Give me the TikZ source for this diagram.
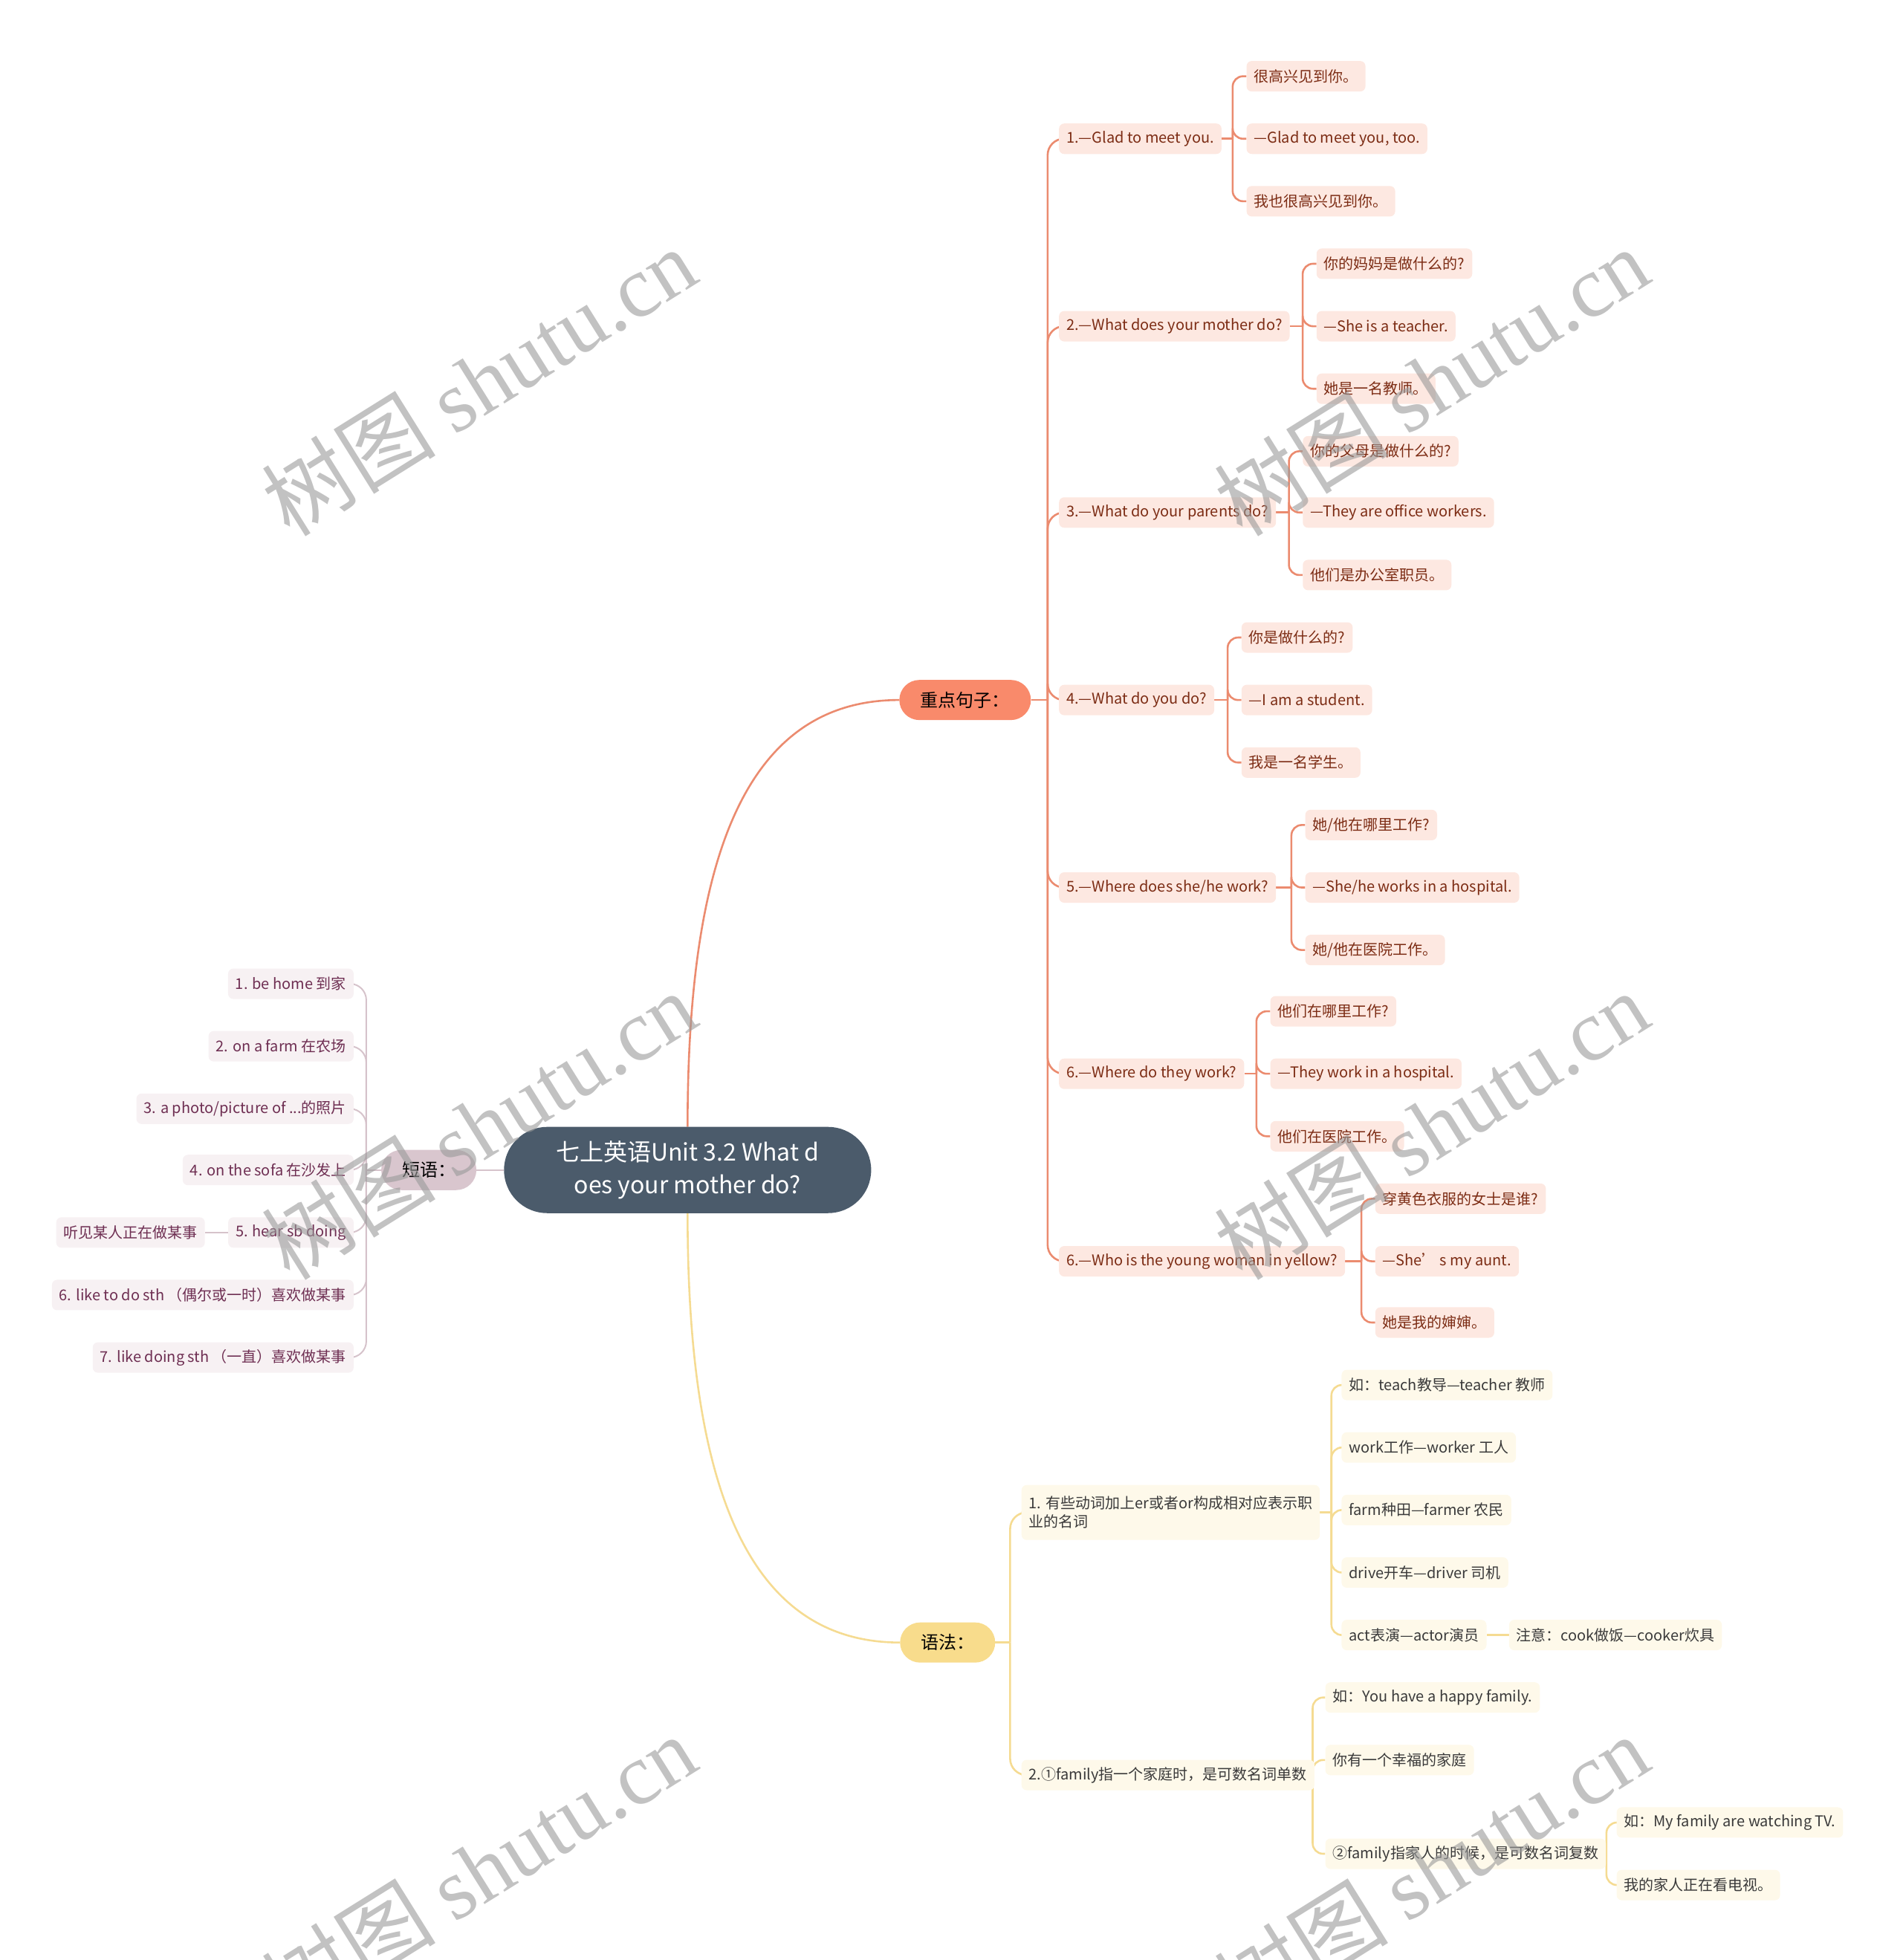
\documentclass[tikz,border=0pt]{standalone}
\usepackage{fontspec}
\setmainfont{Noto Sans CJK SC}
\newfontfamily\wmserif{Liberation Serif}
\usetikzlibrary{backgrounds}

\definecolor{rootc}{HTML}{4B5B6B}
\definecolor{redc}{HTML}{F98A6B}
\definecolor{redline}{HTML}{EB8B6F}
\definecolor{redleaf}{HTML}{FDE8E1}
\definecolor{redtext}{HTML}{7C2C14}
\definecolor{yelc}{HTML}{F8DC8C}
\definecolor{yelline}{HTML}{F5DB92}
\definecolor{yelleaf}{HTML}{FEF9EA}
\definecolor{yeltext}{HTML}{3A3A3A}
\definecolor{pinkc}{HTML}{D9C6CE}
\definecolor{pinkline}{HTML}{D6C3CB}
\definecolor{pinkleaf}{HTML}{F7F1F3}
\definecolor{pinktext}{HTML}{6E2E52}

\begin{document}
\begin{tikzpicture}[x=1.682pt,y=-1.682pt,
  leafbase/.style={rounded corners=7pt, inner xsep=10pt, inner ysep=0pt, minimum height=41pt, font=\fontsize{20}{25}\selectfont},
  rleaf/.style={leafbase, fill=redleaf, text=redtext, anchor=west},
  yleaf/.style={leafbase, fill=yelleaf, text=yeltext, anchor=west},
  pleaf/.style={leafbase, fill=pinkleaf, text=pinktext, anchor=east},
  mainnode/.style={rounded corners=27pt, minimum height=54pt, minimum width=128pt, font=\fontsize{24}{28}\selectfont, text=black},
  rootnode/.style={fill=rootc, text=white, rounded corners=58pt, minimum width=494pt, minimum height=116pt, align=center, font=\fontsize{32}{44}\selectfont},
  rline/.style={draw=redline, line width=2.6pt, rounded corners=14pt},
  yline/.style={draw=yelline, line width=2.6pt, rounded corners=14pt},
  pline/.style={draw=pinkline, line width=2pt, rounded corners=14pt},
  wm/.style={text=black!40, text opacity=0.6, rotate=32, font=\fontsize{117}{117}\selectfont}
]
\useasboundingbox (0,0) rectangle (1522,1568);

% ---------- main nodes ----------
\node[rootnode] (root) at (550,936) {七上英语Unit 3.2 What d\\oes your mother do?};
\node[mainnode, fill=redc, minimum width=177pt] (key) at (772,560) {重点句子：};
\node[mainnode, fill=yelc] (gram) at (758,1314) {语法：};
\node[mainnode, fill=pinkc] (phr) at (343,936) {短语：};

% ---------- key sentences ----------
\node[rleaf] (k1) at (847,111) {1.—Glad to meet you.};
\node[rleaf] (k2) at (847,261) {2.—What does your mother do?};
\node[rleaf] (k3) at (847,410) {3.—What do your parents do?};
\node[rleaf] (k4) at (847,560) {4.—What do you do?};
\node[rleaf] (k5) at (847,710) {5.—Where does she/he work?};
\node[rleaf] (k6) at (847,859) {6.—Where do they work?};
\node[rleaf] (k7) at (847,1009) {6.—Who is the young woman in yellow?};

\node[rleaf] (k1a) at (997,61) {很高兴见到你。};
\node[rleaf] (k1b) at (997,111) {—Glad to meet you, too.};
\node[rleaf] (k1c) at (997,161) {我也很高兴见到你。};

\node[rleaf] (k2a) at (1053,211) {你的妈妈是做什么的?};
\node[rleaf] (k2b) at (1053,261) {—She is a teacher.};
\node[rleaf] (k2c) at (1053,311) {她是一名教师。};

\node[rleaf] (k3a) at (1042,361) {你的父母是做什么的?};
\node[rleaf] (k3b) at (1042,410) {—They are office workers.};
\node[rleaf] (k3c) at (1042,460) {他们是办公室职员。};

\node[rleaf] (k4a) at (993,510) {你是做什么的?};
\node[rleaf] (k4b) at (993,560) {—I am a student.};
\node[rleaf] (k4c) at (993,610) {我是一名学生。};

\node[rleaf] (k5a) at (1044,660) {她/他在哪里工作?};
\node[rleaf] (k5b) at (1044,710) {—She/he works in a hospital.};
\node[rleaf] (k5c) at (1044,760) {她/他在医院工作。};

\node[rleaf] (k6a) at (1016,809) {他们在哪里工作?};
\node[rleaf] (k6b) at (1016,859) {—They work in a hospital.};
\node[rleaf] (k6c) at (1016,909) {他们在医院工作。};

\node[rleaf] (k7a) at (1100,959) {穿黄色衣服的女士是谁?};
\node[rleaf] (k7b) at (1100,1009) {—She’ s my aunt.};
\node[rleaf] (k7c) at (1100,1058) {她是我的婶婶。};

% ---------- grammar ----------
\node[yleaf, align=left, minimum height=74pt] (g1) at (817,1210) {1. 有些动词加上er或者or构成相对应表示职\\业的名词};
\node[yleaf] (g2) at (817,1420) {2.①family指一个家庭时，是可数名词单数};

\node[yleaf] (g1a) at (1073,1108) {如：teach教导—teacher 教师};
\node[yleaf] (g1b) at (1073,1158) {work工作—worker 工人};
\node[yleaf] (g1c) at (1073,1208) {farm种田—farmer 农民};
\node[yleaf] (g1d) at (1073,1258) {drive开车—driver 司机};
\node[yleaf] (g1e) at (1073,1308) {act表演—actor演员};
\node[yleaf] (g1f) at (1207,1308) {注意：cook做饭—cooker炊具};

\node[yleaf] (g2a) at (1060,1358) {如：You have a happy family.};
\node[yleaf] (g2b) at (1060,1408) {你有一个幸福的家庭};
\node[yleaf] (g2c) at (1060,1483) {②family指家人的时候，是可数名词复数};
\node[yleaf] (g2d) at (1293,1458) {如：My family are watching TV.};
\node[yleaf] (g2e) at (1293,1508) {我的家人正在看电视。};

% ---------- phrases ----------
\node[pleaf] (p1) at (283,787) {1. be home 到家};
\node[pleaf] (p2) at (283,837) {2. on a farm 在农场};
\node[pleaf] (p3) at (283,887) {3. a photo/picture of ...的照片};
\node[pleaf] (p4) at (283,936) {4. on the sofa 在沙发上};
\node[pleaf] (p5) at (283,986) {5. hear sb doing};
\node[pleaf] (p5a) at (164,986) {听见某人正在做某事};
\node[pleaf] (p6) at (283,1036) {6. like to do sth （偶尔或一时）喜欢做某事};
\node[pleaf] (p7) at (283,1086) {7. like doing sth （一直）喜欢做某事};

% ---------- trunk coordinates ----------
\coordinate (kt) at (838,560);
\coordinate (t1) at (986,111);
\coordinate (t2) at (1042,261);
\coordinate (t3) at (1031,410);
\coordinate (t4) at (982,560);
\coordinate (t5) at (1033,710);
\coordinate (t6) at (1005,859);
\coordinate (t7) at (1089,1009);
\coordinate (gt) at (808,1314);
\coordinate (gt1) at (1065,1210);
\coordinate (gt2) at (1050,1420);
\coordinate (gt3) at (1285,1483);
\coordinate (pt) at (293,936);

\begin{scope}[on background layer]
  % root connections
  \draw[redline, line width=2.6pt] (root.north) .. controls +(0,-200) and +(-130,0) .. (key.west);
  \draw[yelline, line width=2.6pt] (root.south) .. controls +(0,200) and +(-130,0) .. (gram.west);
  \draw[pinkline, line width=2pt] (root.west) -- (phr.east);

  % key sentences
  \draw[rline] (key.east) -- (kt);
  \foreach \c in {k1,k2,k3,k4,k5,k6,k7} { \draw[rline, rounded corners=22pt] (kt) |- (\c.west); }
  \draw[rline] (k1.east) -- (t1);
  \foreach \c in {k1a,k1b,k1c} { \draw[rline] (t1) |- (\c.west); }
  \draw[rline] (k2.east) -- (t2);
  \foreach \c in {k2a,k2b,k2c} { \draw[rline] (t2) |- (\c.west); }
  \draw[rline] (k3.east) -- (t3);
  \foreach \c in {k3a,k3b,k3c} { \draw[rline] (t3) |- (\c.west); }
  \draw[rline] (k4.east) -- (t4);
  \foreach \c in {k4a,k4b,k4c} { \draw[rline] (t4) |- (\c.west); }
  \draw[rline] (k5.east) -- (t5);
  \foreach \c in {k5a,k5b,k5c} { \draw[rline] (t5) |- (\c.west); }
  \draw[rline] (k6.east) -- (t6);
  \foreach \c in {k6a,k6b,k6c} { \draw[rline] (t6) |- (\c.west); }
  \draw[rline] (k7.east) -- (t7);
  \foreach \c in {k7a,k7b,k7c} { \draw[rline] (t7) |- (\c.west); }

  % grammar
  \draw[yline] (gram.east) -- (gt);
  \foreach \c in {g1,g2} { \draw[yline, rounded corners=22pt] (gt) |- (\c.west); }
  \draw[yline] (g1.east) -- (gt1);
  \foreach \c in {g1a,g1b,g1c,g1d,g1e} { \draw[yline] (gt1) |- (\c.west); }
  \draw[yline] (g1e.east) -- (g1f.west);
  \draw[yline] (g2.east) -- (gt2);
  \foreach \c in {g2a,g2b,g2c} { \draw[yline] (gt2) |- (\c.west); }
  \draw[yline] (g2c.east) -- (gt3);
  \foreach \c in {g2d,g2e} { \draw[yline] (gt3) |- (\c.west); }

  % phrases
  \draw[pline] (phr.west) -- (pt);
  \foreach \c in {p1,p2,p3,p4,p5,p6,p7} { \draw[pline, rounded corners=22pt] (pt) |- (\c.east); }
  \draw[pline] (p5.west) -- (p5a.east);
\end{scope}

% ---------- watermarks ----------
\node[wm] (w1) at (383,305) {树图 {\wmserif shutu.cn}};
\node[wm] (w2) at (1145,305) {树图 {\wmserif shutu.cn}};
\node[wm] (w3) at (383,900) {树图 {\wmserif shutu.cn}};
\node[wm] (w4) at (1145,900) {树图 {\wmserif shutu.cn}};
\node[wm] (w5) at (383,1495) {树图 {\wmserif shutu.cn}};
\node[wm] (w6) at (1145,1495) {树图 {\wmserif shutu.cn}};
\end{tikzpicture}
\end{document}
